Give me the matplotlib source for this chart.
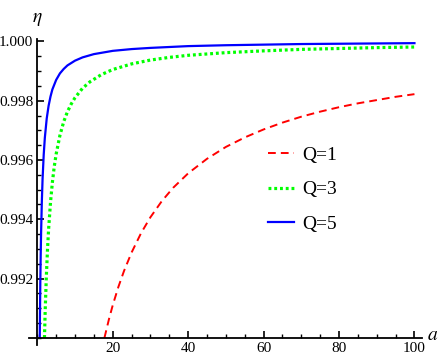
import matplotlib
matplotlib.use("Agg")
import matplotlib.pyplot as plt
from matplotlib.ticker import MultipleLocator, FormatStrFormatter

# values
a_q1 = [17.8, 19, 20, 21.5, 23, 25, 27.5, 30, 33, 36, 40, 45, 50, 55, 60,
        65, 70, 75, 80, 85, 90, 95, 100]
eta_q1 = [0.99000, 0.99063, 0.99110, 0.99172, 0.99226, 0.99288, 0.99353,
          0.99407, 0.99461, 0.99506, 0.99555, 0.99604, 0.99644, 0.99676,
          0.99703, 0.99726, 0.99746, 0.99763, 0.99778, 0.99791, 0.99802,
          0.99813, 0.99822]

a_q3 = [1.9, 2.1, 2.4, 2.7, 3, 3.5, 4, 4.5, 5, 6, 7, 8, 9, 10, 12, 14, 17,
        20, 25, 30, 35, 40, 50, 60, 70, 80, 90, 100]
eta_q3 = [0.99000, 0.99095, 0.99208, 0.99296, 0.99367, 0.99457, 0.99525,
          0.99578, 0.99620, 0.99683, 0.99729, 0.99763, 0.99789, 0.99810,
          0.99842, 0.99864, 0.99888, 0.99905, 0.99924, 0.99937, 0.99946,
          0.99953, 0.99962, 0.99968, 0.99973, 0.99976, 0.99979, 0.99981]

a_q5 = [0.65, 0.7, 0.8, 0.9, 1.0, 1.2, 1.4, 1.7, 2, 2.5, 3, 3.5, 4, 5, 6, 7,
        8, 10, 12, 15, 20, 25, 30, 40, 50, 60, 70, 80, 90, 100]
eta_q5 = [0.99000, 0.99071, 0.99188, 0.99278, 0.99350, 0.99458, 0.99536,
          0.99618, 0.99675, 0.99740, 0.99783, 0.99814, 0.99838, 0.99870,
          0.99892, 0.99907, 0.99919, 0.99935, 0.99946, 0.99957, 0.99968,
          0.99974, 0.99978, 0.99984, 0.99987, 0.99989, 0.99991, 0.99992,
          0.99993, 0.99994]

labels = ["Q=1", "Q=3", "Q=5"]

plt.rcParams['font.family'] = ['Liberation Serif', 'DejaVu Serif']
plt.rcParams['mathtext.fontset'] = 'stix'

fig = plt.figure(figsize=(4.43, 3.6), dpi=100)
ax = fig.add_axes([29 / 443, 15 / 360, (422 - 29) / 443, (345 - 39) / 360])

ax.plot(a_q1, eta_q1, color=(1, 0, 0), lw=1.4, ls=(0, (4, 2.6)), label=labels[0])
ax.plot(a_q3, eta_q3, color=(0, 1, 0), lw=2.3, ls=(0, (0.9, 0.9)),
        solid_capstyle='butt', label=labels[1])
ax.plot(a_q5, eta_q5, color=(0, 0, 1), lw=1.6, label=labels[2])

ax.set_xlim(-2.2, 102)
ax.set_ylim(0.98976, 1.00008)

ax.spines['top'].set_visible(False)
ax.spines['right'].set_visible(False)
ax.spines['left'].set_position(('data', 0))
ax.spines['bottom'].set_position(('data', 0.990))
for s in ('left', 'bottom'):
    ax.spines[s].set_linewidth(1.3)

ax.xaxis.set_minor_locator(MultipleLocator(5))
ax.yaxis.set_minor_locator(MultipleLocator(0.0005))
ax.yaxis.set_major_formatter(FormatStrFormatter('%.3f'))
ax.set_xticks([20, 40, 60, 80, 100])
ax.set_yticks([0.992, 0.994, 0.996, 0.998, 1.000])

ax.tick_params(which='major', direction='in', length=5, width=1.2,
               labelsize=11, pad=3)
ax.tick_params(which='minor', direction='in', length=3, width=1.0)

fig.text(37 / 443, 1 - 19 / 360, r'$\eta$', fontsize=14, ha='center', va='center')
fig.text(433 / 443, 1 - 336 / 360, r'$a$', fontsize=14, ha='center', va='center')

ax.legend(loc='upper left', bbox_to_anchor=(268 / 443, 1 - 146 / 360),
          bbox_transform=fig.transFigure, frameon=False, fontsize=14,
          handlelength=1.35, handletextpad=0.4, labelspacing=0.88,
          borderaxespad=0, borderpad=0)

fig.savefig('out.png', dpi=100)
